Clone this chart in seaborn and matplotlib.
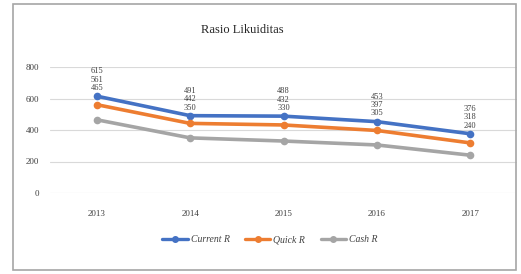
import matplotlib
matplotlib.use("Agg")
import matplotlib.pyplot as plt
from matplotlib.patches import Rectangle
import pandas as pd
import seaborn as sns

# Data
years = ["2013", "2014", "2015", "2016", "2017"]
current_r = [615, 491, 488, 453, 376]
quick_r = [561, 442, 432, 397, 318]
cash_r = [465, 350, 330, 305, 240]
series_names = ["Current R", "Quick R", "Cash R"]
colors = ["#4472C4", "#ED7D31", "#A5A5A5"]

df = pd.DataFrame({
    "Tahun": years * 3,
    "Rasio": series_names[0:1] * 5 + series_names[1:2] * 5 + series_names[2:3] * 5,
    "Nilai": current_r + quick_r + cash_r,
})

sns.set_theme(style="white")
plt.rcParams["font.family"] = ["Liberation Serif", "DejaVu Serif"]

fig = plt.figure(figsize=(5.21, 2.74), dpi=100)
ax = fig.add_axes([50 / 521, 1 - 193 / 274, 467 / 521, 126 / 274])

sns.lineplot(data=df, x="Tahun", y="Nilai", hue="Rasio", palette=colors,
             marker="o", markersize=5.5, markeredgewidth=0, linewidth=2.6,
             sort=False, ax=ax, legend=False, zorder=3)

# stacked data labels above each year (like the Excel export)
for i in range(len(years)):
    for vals, off in [(current_r, 15), (quick_r, 9), (cash_r, 3)]:
        ax.annotate(str(vals[i]), (i, current_r[i]), xytext=(0, off),
                    textcoords="offset points", ha="center", va="bottom",
                    fontsize=6, color="#404040", zorder=2)

ax.set_xlim(-0.5, 4.5)
ax.set_ylim(0, 800)
ax.set_yticks([0, 200, 400, 600, 800])
ax.grid(axis="y", color="#D9D9D9", linewidth=0.8)
for s in ax.spines.values():
    s.set_visible(False)
ax.tick_params(axis="both", labelsize=6.5, colors="#404040", length=0, pad=8)
ax.tick_params(axis="x", pad=12)
ax.set_xlabel("")
ax.set_ylabel("")

fig.text(242 / 521, 1 - 30 / 274, "Rasio Likuiditas", ha="center", va="center",
         fontsize=9, color="#262626")

# legend
handles = [plt.Line2D([0], [0], color=c, marker="o", markersize=4, linewidth=2.4)
           for c in colors]
fig.legend(handles, series_names, loc="center", bbox_to_anchor=(270 / 521, 1 - 240 / 274),
           ncol=3, frameon=False, prop={"style": "italic", "size": 7},
           handlelength=2.6, columnspacing=1.6, handletextpad=0.3,
           labelcolor="#404040")

# outer chart border
fig.patches.append(Rectangle((13 / 521, 4 / 274), 503 / 521, 266 / 274,
                             transform=fig.transFigure, fill=False,
                             edgecolor="#A6A6A6", linewidth=1.2))

fig.savefig("out.png", dpi=100)
